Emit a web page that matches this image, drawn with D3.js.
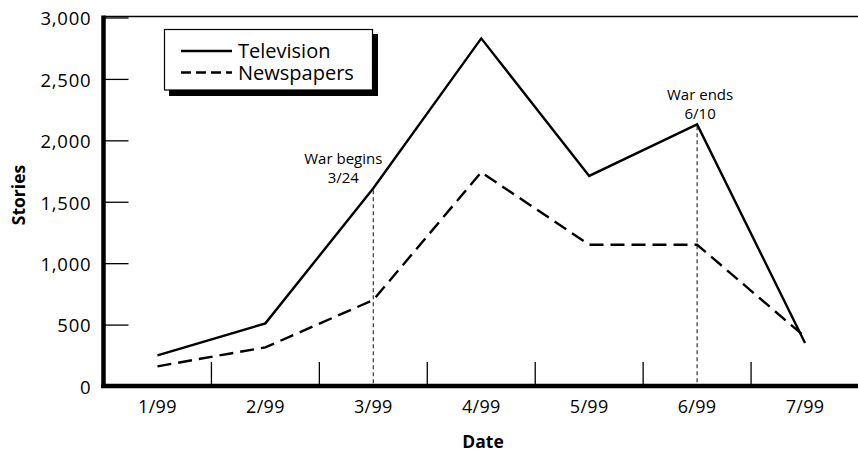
<!DOCTYPE html>
<html>
<head>
<meta charset="utf-8">
<script src="https://cdn.jsdelivr.net/npm/d3@7"></script>
<style>
  html, body { margin: 0; padding: 0; background: #fff; }
  svg { display: block; font-family: "Open Sans", "Noto Sans", sans-serif; }
</style>
</head>
<body>
<svg id="chart" width="858" height="451"></svg>
<script>
// ---- Data ----
const months = ["1/99", "2/99", "3/99", "4/99", "5/99", "6/99", "7/99"];
const television = [250, 510, 1610, 2830, 1710, 2130, 350];
const newspapers = [160, 315, 700, 1740, 1150, 1150, 400];
const yTicks = [0, 500, 1000, 1500, 2000, 2500, 3000];
const seriesNames = ["Television", "Newspapers"];
const eventMonths = ["3/99", "6/99"];
const eventLabels = [["War begins", "3/24"], ["War ends", "6/10"]];
const xTitle = "Date";
const yTitle = "Stories";

// ---- Layout ----
const W = 858, H = 451;
const plotLeft = 103.5, plotRight = 859, plotTop = 17.5, plotBottom = 386;
const eventLabelDx = [-30, 3];

const svg = d3.select("#chart");

const x = d3.scaleBand().domain(months).range([plotLeft, plotRight]).padding(0);
const cx = m => x(m) + x.bandwidth() / 2;
const y = d3.scaleLinear().domain([0, 3000]).range([plotBottom, plotTop]);

// Top border
svg.append("line")
  .attr("x1", plotLeft).attr("x2", W)
  .attr("y1", y(3000) - 1).attr("y2", y(3000) - 1)
  .attr("stroke", "#000").attr("stroke-width", 1.5);

// Y axis
const yAxis = svg.append("g")
  .attr("transform", `translate(${plotLeft},0)`)
  .call(d3.axisLeft(y).tickValues(yTicks).tickFormat(d3.format(","))
    .tickSize(-25).tickPadding(12));
yAxis.select(".domain").remove();
yAxis.selectAll(".tick line").attr("stroke", "#000").attr("stroke-width", 1.3);
yAxis.selectAll(".tick text")
  .attr("font-size", 18.5)
  .attr("letter-spacing", 0.8)
  .attr("dy", "0.4em")
  .attr("fill", "#000")
  .attr("font-family", "'Open Sans', sans-serif");

// X axis labels
const xAxis = svg.append("g")
  .attr("transform", `translate(0,${plotBottom})`)
  .call(d3.axisBottom(x).tickSize(0).tickPadding(14));
xAxis.select(".domain").remove();
xAxis.selectAll(".tick text")
  .attr("font-size", 18)
  .attr("letter-spacing", 0.3)
  .attr("fill", "#000")
  .attr("font-family", "'Open Sans', sans-serif");

// X boundary ticks (inward)
svg.append("g").selectAll("line")
  .data(months.slice(1))
  .join("line")
  .attr("x1", d => x(d)).attr("x2", d => x(d))
  .attr("y1", plotBottom).attr("y2", plotBottom - 24)
  .attr("stroke", "#000").attr("stroke-width", 1.3);

// Event reference lines
eventMonths.forEach((m, i) => {
  const idx = months.indexOf(m);
  const xx = cx(m);
  const yy = y(television[idx]);
  svg.append("line")
    .attr("x1", xx).attr("x2", xx)
    .attr("y1", yy + 2).attr("y2", plotBottom)
    .attr("stroke", "#444").attr("stroke-width", 1.3)
    .attr("stroke-dasharray", "4,3");
  eventLabels[i].forEach((txt, j) => {
    svg.append("text")
      .attr("text-anchor", "middle")
      .attr("font-size", 15)
      .attr("fill", "#000")
      .attr("x", xx + eventLabelDx[i])
      .attr("y", yy - 24 + j * 19)
      .text(txt);
  });
});

// Series lines
const line = d3.line().x((d, i) => cx(months[i])).y(d => y(d));
svg.append("path")
  .datum(newspapers)
  .attr("d", line)
  .attr("fill", "none").attr("stroke", "#000").attr("stroke-width", 2.4)
  .attr("stroke-dasharray", "14,7");
svg.append("path")
  .datum(television)
  .attr("d", line)
  .attr("fill", "none").attr("stroke", "#000").attr("stroke-width", 2.4)
  .attr("stroke-linejoin", "miter");

// Thick axis lines
svg.append("line")
  .attr("x1", plotLeft).attr("x2", plotLeft)
  .attr("y1", y(3000) - 2).attr("y2", plotBottom + 2)
  .attr("stroke", "#000").attr("stroke-width", 4.5);
svg.append("line")
  .attr("x1", plotLeft - 2.5).attr("x2", W)
  .attr("y1", plotBottom).attr("y2", plotBottom)
  .attr("stroke", "#000").attr("stroke-width", 4.5);

// Legend
const lg = svg.append("g");
lg.append("rect").attr("x", 169).attr("y", 34).attr("width", 209).attr("height", 62).attr("fill", "#000");
lg.append("rect").attr("x", 164.5).attr("y", 29.5).attr("width", 208).attr("height", 60.5)
  .attr("fill", "#fff").attr("stroke", "#000").attr("stroke-width", 1.2);
const legendStyles = [null, "10,5"];
seriesNames.forEach((name, i) => {
  const ly = 51 + i * 21.5;
  lg.append("line")
    .attr("x1", 181).attr("x2", 232).attr("y1", ly).attr("y2", ly)
    .attr("stroke", "#000").attr("stroke-width", 2.4)
    .attr("stroke-dasharray", legendStyles[i]);
  lg.append("text")
    .attr("x", 238).attr("y", ly + 7)
    .attr("font-size", 20).attr("fill", "#000")
    .text(name);
});

// Axis titles
svg.append("text")
  .attr("transform", `translate(25,195) rotate(-90)`)
  .attr("text-anchor", "middle")
  .attr("font-size", 17.5).attr("font-weight", "bold").attr("fill", "#000")
  .text(yTitle);
svg.append("text")
  .attr("x", 483).attr("y", 447.5)
  .attr("text-anchor", "middle")
  .attr("font-size", 17.5).attr("font-weight", "bold").attr("fill", "#000")
  .text(xTitle);
</script>
</body>
</html>
